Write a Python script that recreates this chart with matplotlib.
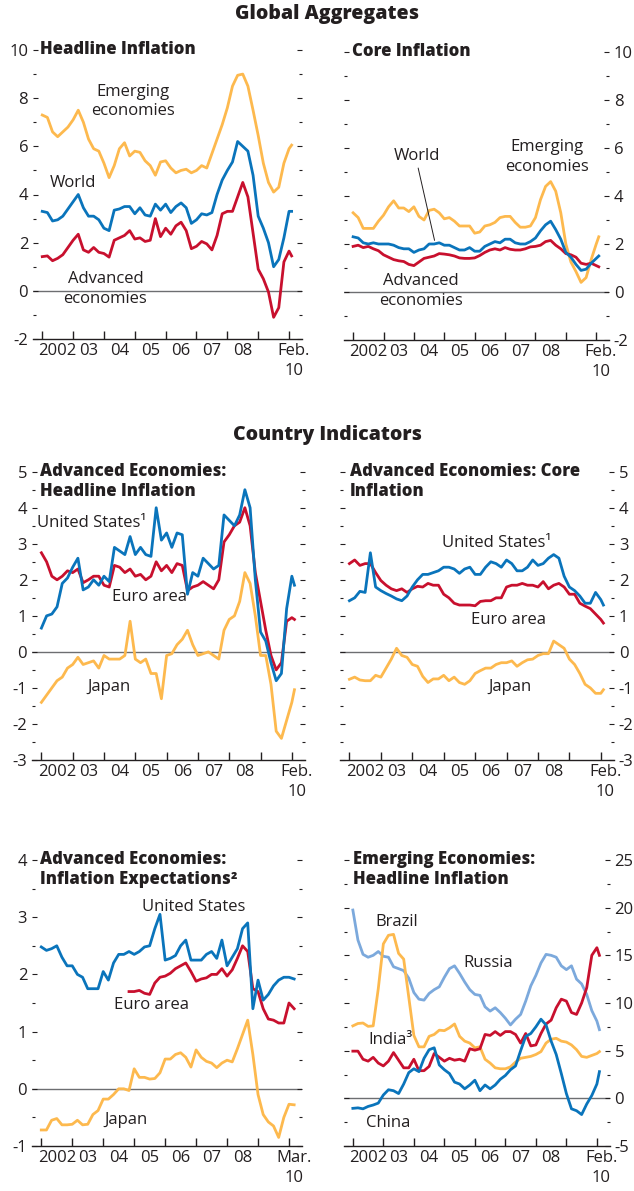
import matplotlib
matplotlib.use("Agg")
import matplotlib.pyplot as plt
import numpy as np
from matplotlib.ticker import FormatStrFormatter

plt.rcParams['font.family'] = ['Open Sans', 'DejaVu Sans']
plt.rcParams['axes.unicode_minus'] = False

INK = '#231f20'
ORANGE = '#fdb94e'
BLUE = '#0a74bb'
RED = '#c8102e'
LIGHT_BLUE = '#7ca9dc'
ZERO = '#6d6e71'

# ---- data: readings every two months, counted from Jan 2002 ----
months = list(range(0, 97, 2)) + [97]          # Jan 2002 .. Feb 2010
months_mar = list(range(0, 99, 2))             # Jan 2002 .. Mar 2010
months_euro_exp = list(range(34, 99, 2))       # euro area expectations start late 2004

# Global aggregates: headline inflation
emerging_head = [7.3, 7.2, 6.6, 6.4, 6.6, 6.8, 7.1, 7.5, 7.0, 6.3, 5.9, 5.8, 5.3, 4.7, 5.2,
                 5.9, 6.15, 5.6, 5.8, 5.75, 5.4, 5.2, 4.8, 5.35, 5.4, 5.1, 4.9, 5.0, 5.05, 4.9,
                 5.0, 5.2, 5.1, 5.7, 6.3, 6.9, 7.6, 8.5, 8.95, 9.0, 8.5, 7.5, 6.45, 5.3, 4.5,
                 4.1, 4.3, 5.3, 5.9, 6.05]
world_head = [3.3, 3.25, 2.9, 2.95, 3.1, 3.4, 3.7, 4.0, 3.45, 3.1, 3.1, 2.95, 2.6, 2.5, 3.35,
              3.4, 3.5, 3.5, 3.2, 3.45, 3.15, 3.1, 3.6, 3.35, 3.6, 3.25, 3.5, 3.65, 3.45, 2.8,
              2.95, 3.2, 3.15, 3.25, 4.0, 4.6, 5.0, 5.35, 6.2, 6.0, 5.8, 4.8, 3.1, 2.6, 2.0,
              1.0, 1.3, 2.2, 3.3, 3.3]
advanced_head = [1.42, 1.45, 1.25, 1.35, 1.5, 1.8, 2.1, 2.35, 1.7, 1.6, 1.8, 1.6, 1.55, 1.4, 2.1,
                 2.2, 2.3, 2.5, 2.15, 2.2, 2.05, 2.1, 3.0, 2.25, 2.6, 2.35, 2.7, 2.85, 2.5, 1.75,
                 1.85, 2.05, 1.95, 1.7, 2.3, 3.2, 3.3, 3.3, 3.9, 4.5, 3.9, 2.4, 0.9, 0.5, -0.05,
                 -1.1, -0.7, 1.2, 1.65, 1.45]

# Global aggregates: core inflation
emerging_core = [3.3, 3.1, 2.65, 2.65, 2.65, 2.95, 3.2, 3.55, 3.8, 3.5, 3.5, 3.35, 3.55, 3.15, 3.0,
                 3.4, 3.45, 3.3, 3.05, 3.1, 2.95, 2.75, 2.75, 2.75, 2.45, 2.5, 2.75, 2.8, 2.9, 3.1,
                 3.15, 3.15, 2.9, 2.7, 2.7, 2.75, 3.1, 3.85, 4.4, 4.6, 4.2, 3.3, 2.0, 1.25, 0.85,
                 0.4, 0.6, 1.35, 2.0, 2.3]
world_core = [2.3, 2.25, 2.05, 2.0, 2.05, 2.0, 2.0, 2.0, 1.95, 1.85, 1.8, 1.8, 1.65, 1.75, 1.8,
              2.0, 2.0, 2.05, 1.95, 1.95, 1.85, 1.75, 1.75, 1.85, 1.7, 1.7, 1.9, 2.0, 2.1, 2.05,
              2.2, 2.2, 2.05, 2.0, 2.0, 2.1, 2.25, 2.55, 2.8, 2.95, 2.6, 2.2, 1.65, 1.45, 1.15,
              0.9, 0.95, 1.2, 1.4, 1.5]
advanced_core = [1.9, 1.95, 1.85, 1.9, 1.8, 1.72, 1.55, 1.45, 1.35, 1.3, 1.27, 1.15, 1.1, 1.25, 1.4,
                 1.45, 1.5, 1.6, 1.58, 1.55, 1.5, 1.42, 1.4, 1.4, 1.42, 1.52, 1.65, 1.75, 1.8, 1.75,
                 1.85, 1.78, 1.75, 1.75, 1.8, 1.88, 1.9, 1.95, 2.1, 2.15, 1.95, 1.8, 1.6, 1.55, 1.45,
                 1.2, 1.15, 1.2, 1.1, 1.05]

# Advanced economies: headline inflation
us_head = [0.66, 1.0, 1.05, 1.25, 1.9, 2.05, 2.35, 2.6, 1.72, 1.8, 2.0, 1.85, 2.1, 1.95, 2.9,
           2.8, 2.7, 3.2, 2.7, 2.9, 2.7, 2.65, 4.0, 3.1, 3.3, 2.9, 3.3, 3.25, 1.6, 2.2,
           2.1, 2.6, 2.45, 2.3, 2.4, 3.8, 3.65, 3.5, 3.8, 4.5, 4.0, 2.0, 0.55, 0.3, -0.3,
           -0.8, -0.6, 1.2, 2.1, 1.85]
euro_head = [2.75, 2.5, 2.1, 2.0, 2.1, 2.25, 2.2, 2.3, 1.92, 2.0, 2.1, 2.1, 1.85, 1.8, 2.4,
             2.35, 2.2, 2.3, 2.1, 2.15, 2.0, 2.1, 2.5, 2.25, 2.4, 2.2, 2.45, 2.4, 1.7, 1.8,
             1.85, 1.95, 1.85, 1.75, 2.0, 3.05, 3.25, 3.5, 3.6, 4.0, 3.5, 2.2, 1.4, 0.6, -0.1,
             -0.5, -0.3, 0.85, 0.95, 0.9]
japan_head = [-1.4, -1.2, -1.0, -0.8, -0.7, -0.45, -0.35, -0.15, -0.35, -0.3, -0.25, -0.45, -0.1, -0.2, -0.2,
              -0.2, -0.1, 0.85, -0.2, -0.3, -0.2, -0.6, -0.6, -1.3, -0.1, -0.05, 0.2, 0.35, 0.6, 0.2,
              -0.1, -0.05, 0.0, -0.1, -0.2, 0.6, 0.9, 1.0, 1.4, 2.2, 1.9, 1.0, -0.1, -0.1, -0.9,
              -2.2, -2.4, -1.9, -1.4, -1.05]

# Advanced economies: core inflation
us_core = [1.42, 1.5, 1.68, 1.65, 2.75, 1.8, 1.7, 1.62, 1.55, 1.47, 1.42, 1.55, 1.8, 2.0, 2.15,
           2.15, 2.2, 2.25, 2.35, 2.35, 2.3, 2.18, 2.3, 2.35, 2.15, 2.15, 2.35, 2.5, 2.45, 2.35,
           2.55, 2.45, 2.25, 2.25, 2.35, 2.55, 2.4, 2.45, 2.6, 2.7, 2.6, 2.1, 1.8, 1.7, 1.55,
           1.35, 1.35, 1.65, 1.45, 1.3]
euro_core = [2.45, 2.55, 2.4, 2.45, 2.45, 2.2, 1.98, 1.85, 1.75, 1.7, 1.75, 1.65, 1.75, 1.82, 1.8,
             1.9, 1.85, 1.85, 1.6, 1.5, 1.35, 1.3, 1.3, 1.3, 1.28, 1.4, 1.42, 1.42, 1.5, 1.5,
             1.8, 1.85, 1.85, 1.9, 1.85, 1.85, 1.8, 1.95, 1.75, 1.85, 1.9, 1.8, 1.6, 1.6, 1.35,
             1.27, 1.2, 1.05, 0.9, 0.8]
japan_core = [-0.76, -0.7, -0.78, -0.8, -0.8, -0.65, -0.7, -0.45, -0.2, 0.1, -0.1, -0.15, -0.35, -0.4, -0.68,
              -0.85, -0.75, -0.75, -0.65, -0.8, -0.7, -0.85, -0.9, -0.8, -0.6, -0.52, -0.45, -0.45, -0.35, -0.3,
              -0.3, -0.25, -0.4, -0.3, -0.22, -0.2, -0.1, -0.05, -0.05, 0.3, 0.2, 0.1, -0.2, -0.35, -0.6,
              -0.9, -1.0, -1.15, -1.15, -1.05]

# Advanced economies: inflation expectations
us_exp = [2.48, 2.42, 2.45, 2.5, 2.3, 2.15, 2.15, 2.0, 1.95, 1.75, 1.75, 1.75, 2.05, 1.9, 2.2,
          2.35, 2.35, 2.4, 2.35, 2.4, 2.48, 2.5, 2.8, 3.05, 2.25, 2.28, 2.33, 2.5, 2.6, 2.25,
          2.25, 2.25, 2.35, 2.4, 2.28, 2.6, 2.15, 2.3, 2.45, 2.8, 2.9, 1.4, 1.9, 1.55, 1.65,
          1.8, 1.9, 1.95, 1.95, 1.92]
euro_exp = [1.7, 1.7, 1.72, 1.67, 1.65, 1.85, 1.95, 1.97, 2.02, 2.1, 2.15, 2.2, 2.05, 1.88, 1.92,
            1.94, 2.0, 2.0, 2.1, 1.97, 2.08, 2.28, 2.5, 2.4, 1.75, 1.7, 1.4, 1.22, 1.2, 1.15,
            1.15, 1.5, 1.4]
japan_exp = [-0.72, -0.72, -0.55, -0.52, -0.63, -0.63, -0.62, -0.55, -0.63, -0.62, -0.45, -0.38, -0.18, -0.18, -0.1,
             0.0, 0.0, -0.03, 0.35, 0.2, 0.2, 0.17, 0.18, 0.28, 0.52, 0.52, 0.6, 0.63, 0.55, 0.38,
             0.68, 0.55, 0.48, 0.45, 0.37, 0.45, 0.5, 0.47, 0.7, 0.95, 1.2, 0.6, -0.1, -0.45, -0.58,
             -0.65, -0.85, -0.5, -0.27, -0.28]

# Emerging economies: headline inflation
russia = [19.75, 16.6, 15.1, 14.8, 15.0, 15.4, 14.9, 14.8, 13.8, 13.6, 13.4, 12.6, 11.1, 10.4, 10.3,
          11.0, 11.4, 11.7, 12.7, 13.6, 13.9, 13.1, 12.2, 11.4, 10.9, 10.8, 9.6, 9.15, 9.5, 9.0,
          8.4, 7.7, 8.3, 8.8, 10.2, 11.8, 12.9, 14.2, 15.1, 15.0, 14.8, 13.9, 13.5, 13.9, 12.5,
          12.0, 10.9, 9.2, 8.1, 7.2]
brazil = [7.6, 7.85, 7.9, 7.55, 7.6, 11.5, 16.2, 17.1, 17.2, 15.2, 14.6, 10.6, 6.6, 5.4, 5.4,
          6.5, 6.7, 7.15, 7.1, 7.4, 7.8, 6.5, 6.0, 5.8, 5.3, 5.4, 4.1, 3.7, 3.2, 3.1,
          3.1, 3.3, 3.8, 4.2, 4.3, 4.4, 4.6, 4.9, 5.8, 6.2, 6.3, 6.0, 5.9, 5.6, 5.1,
          4.4, 4.3, 4.5, 4.7, 4.9]
india = [4.95, 4.95, 4.1, 3.9, 4.3, 3.7, 3.4, 3.9, 4.8, 4.0, 3.2, 3.2, 4.1, 2.9, 2.9,
         3.35, 4.7, 4.3, 3.9, 4.2, 4.0, 4.1, 3.9, 5.2, 5.05, 5.2, 6.7, 6.6, 7.0, 6.6,
         7.0, 7.0, 6.7, 5.8, 6.8, 5.5, 5.6, 6.8, 7.8, 8.2, 9.5, 10.4, 10.2, 9.0, 8.8,
         10.0, 11.6, 15.0, 15.8, 15.0]
china = [-1.05, -1.0, -1.1, -0.85, -0.7, -0.5, 0.35, 0.9, 0.8, 0.5, 1.5, 2.7, 3.1, 2.8, 4.2,
         5.1, 5.3, 3.5, 3.0, 2.6, 1.7, 1.5, 1.0, 1.4, 1.9, 0.8, 1.4, 1.0, 1.4, 2.0,
         2.4, 3.0, 3.4, 5.0, 6.5, 6.8, 7.5, 8.3, 7.7, 6.0, 4.6, 2.6, 0.5, -1.1, -1.3,
         -1.7, -0.6, 0.3, 1.5, 2.8]

year_labels = ['2002', '03', '04', '05', '06', '07', '08']

FS = 12
LS = 1.3


def yr(m):
    return 2002 + np.asarray(m) / 12.0


def style(ax, ylim, step, side, end_label):
    ax.set_xlim(2001.7, 2010.42)
    ax.set_ylim(*ylim)
    for s in ['top', 'left', 'right']:
        ax.spines[s].set_visible(False)
    ax.spines['bottom'].set_color(INK)
    ax.spines['bottom'].set_linewidth(1.0)
    ax.axhline(0, color=ZERO, lw=1.0, zorder=1)

    lo, hi = ylim
    ax.set_yticks(np.arange(lo, hi + 0.01, step))
    ax.set_yticks(np.arange(lo + step / 2, hi, step), minor=True)
    ax.yaxis.set_major_formatter(FormatStrFormatter('%d'))
    ax.yaxis.set_ticks_position('both')
    ax.tick_params(axis='y', which='major', direction='in', length=3.8, width=0.8,
                   color=INK, labelsize=FS, labelcolor=INK, pad=3.5)
    ax.tick_params(axis='y', which='minor', direction='in', length=2.4, width=0.8, color=INK)
    if side == 'right':
        ax.tick_params(axis='y', which='both', labelleft=False, labelright=True)
    else:
        ax.tick_params(axis='y', which='both', labelleft=True, labelright=False)

    ax.set_xticks(range(2002, 2011))
    ax.set_xticklabels([])
    ax.set_xticks([y + 0.5 for y in range(2002, 2009)] + [2010.15], minor=True)
    ax.set_xticklabels(year_labels + [end_label], minor=True, linespacing=LS)
    ax.tick_params(axis='x', which='major', direction='in', length=5.5, width=1.0, color=INK)
    ax.tick_params(axis='x', which='minor', length=0, labelsize=FS, labelcolor=INK, pad=3.0)


def title(ax, lines, dx):
    for i, line in enumerate(lines):
        ax.annotate(line, xy=(0, 1), xycoords='axes fraction', xytext=(dx, -14.4 * i),
                    textcoords='offset points', ha='left', va='center', fontsize=FS,
                    fontweight='heavy', color=INK)


def label(ax, x, y, text, **kw):
    ax.text(x, y, text, ha='center', va='center', fontsize=FS, color=INK,
            linespacing=LS, **kw)


fig = plt.figure(figsize=(6.34, 11.91), dpi=100)
W, H = 634.0, 1191.0


def panel(left, right, top, bottom):
    return fig.add_axes([left / W, 1 - bottom / H, (right - left) / W, (bottom - top) / H])


fig.text(327 / W, 1 - 14 / H, 'Global Aggregates', ha='center', va='center',
         fontsize=14, fontweight='heavy', color=INK)
fig.text(327 / W, 1 - 435 / H, 'Country Indicators', ha='center', va='center',
         fontsize=14, fontweight='heavy', color=INK)

LW = 2.0

# 1. Headline inflation
ax = panel(33, 302, 50, 339)
style(ax, (-2, 10), 2, 'left', 'Feb.\n10')
ax.plot(yr(months), emerging_head, color=ORANGE, lw=LW)
ax.plot(yr(months), advanced_head, color=RED, lw=LW)
ax.plot(yr(months), world_head, color=BLUE, lw=LW)
title(ax, ['Headline Inflation'], 5)
label(ax, 2004.93, 7.86, 'Emerging\neconomies')
label(ax, 2002.98, 4.48, 'World')
label(ax, 2004.05, 0.08, 'Advanced\neconomies')

# 2. Core inflation
ax = panel(344, 609, 52, 340)
style(ax, (-2, 10), 2, 'right', 'Feb.\n10')
ax.plot(yr(months), emerging_core, color=ORANGE, lw=LW)
ax.plot(yr(months), advanced_core, color=RED, lw=LW)
ax.plot(yr(months), world_core, color=BLUE, lw=LW)
title(ax, ['Core Inflation'], 6)
ax.annotate('World', xy=(2004.68, 2.15), xytext=(2004.11, 5.67), ha='center', va='center',
            fontsize=FS, color=INK,
            arrowprops=dict(arrowstyle='-', color=INK, lw=0.7, relpos=(0.5, 0.0),
                            shrinkA=1, shrinkB=0))
label(ax, 2008.38, 5.62, 'Emerging\neconomies')
label(ax, 2004.22, 0.04, 'Advanced\neconomies')

# 3. Advanced economies: headline inflation
ax = panel(32, 305, 471.7, 760)
style(ax, (-3, 5), 1, 'left', 'Feb.\n10')
ax.plot(yr(months), japan_head, color=ORANGE, lw=LW)
ax.plot(yr(months), euro_head, color=RED, lw=LW)
ax.plot(yr(months), us_head, color=BLUE, lw=LW)
title(ax, ['Advanced Economies:', 'Headline Inflation'], 6)
label(ax, 2003.62, 3.58, 'United States\u00b9')
label(ax, 2005.44, 1.53, 'Euro area')
label(ax, 2004.17, -0.97, 'Japan')

# 4. Advanced economies: core inflation
ax = panel(340, 614, 471.7, 760)
style(ax, (-3, 5), 1, 'right', 'Feb.\n10')
ax.plot(yr(months), japan_core, color=ORANGE, lw=LW)
ax.plot(yr(months), euro_core, color=RED, lw=LW)
ax.plot(yr(months), us_core, color=BLUE, lw=LW)
title(ax, ['Advanced Economies: Core', 'Inflation'], 7)
label(ax, 2006.70, 3.03, 'United States\u00b9')
label(ax, 2007.07, 0.89, 'Euro area')
label(ax, 2007.10, -0.97, 'Japan')

# 5. Advanced economies: inflation expectations
ax = panel(32, 302, 860, 1146)
style(ax, (-1, 4), 1, 'left', 'Mar.\n10')
ax.plot(yr(months_mar), japan_exp, color=ORANGE, lw=LW)
ax.plot(yr(months_euro_exp), euro_exp, color=RED, lw=LW)
ax.plot(yr(months_mar), us_exp, color=BLUE, lw=LW)
title(ax, ['Advanced Economies:', 'Inflation Expectations\u00b2'], 6)
label(ax, 2006.93, 3.18, 'United States')
label(ax, 2005.55, 1.47, 'Euro area')
label(ax, 2004.73, -0.55, 'Japan')

# 6. Emerging economies: headline inflation
ax = panel(343.7, 609.7, 860, 1146)
style(ax, (-5, 25), 5, 'right', 'Feb.\n10')
ax.plot(yr(months), russia, color=LIGHT_BLUE, lw=LW)
ax.plot(yr(months), brazil, color=ORANGE, lw=LW)
ax.plot(yr(months), india, color=RED, lw=LW)
ax.plot(yr(months), china, color=BLUE, lw=LW)
title(ax, ['Emerging Economies:', 'Headline Inflation'], 7)
label(ax, 2003.44, 18.5, 'Brazil')
label(ax, 2006.45, 14.16, 'Russia')
label(ax, 2003.22, 6.1, 'India\u00b3')
label(ax, 2003.17, -2.63, 'China')

fig.savefig('out.png', dpi=100)
